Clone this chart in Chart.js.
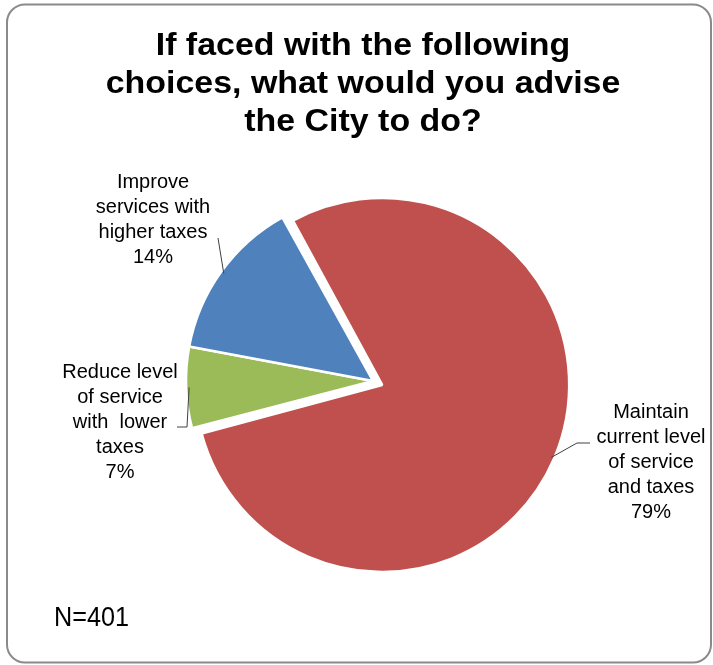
<!DOCTYPE html>
<html>
<head>
<meta charset="utf-8">
<script src="https://cdn.jsdelivr.net/npm/chart.js@4.4.1/dist/chart.umd.min.js"></script>
<style>
  html, body { margin: 0; padding: 0; background: #fff; }
  canvas { display: block; }
</style>
</head>
<body>
<canvas id="pieChart" width="713" height="665"></canvas>
<script>
// data
const categories = [
  "Maintain current level of service and taxes",
  "Reduce level of service with lower taxes",
  "Improve services with higher taxes"
];
const labelLines = [
  ["Maintain", "current level", "of service", "and taxes"],
  ["Reduce level", "of service", "with  lower", "taxes"],
  ["Improve", "services with", "higher taxes"]
];
const shares = [79, 7, 14];
const titleLines = ["If faced with the following", "choices, what would you advise", "the City to do?"];
const footNote = "N=401";

// style
const sliceColors = ["#C0504D", "#9BBB59", "#4F81BD"];
const explode = [40, 0, 0];
const labelLayout = [
  { x: 651, y: 412, elbow: [[590, 443], [577, 443]] },
  { x: 120, y: 372, elbow: [[177, 427], [187, 427]] },
  { x: 153, y: 182, elbow: [[218, 238]] }
];

const piePlugin = {
  id: "pieDecor",
  beforeDraw(chart) {
    const ctx = chart.ctx;
    ctx.save();
    ctx.fillStyle = "#fff";
    ctx.fillRect(0, 0, chart.width, chart.height);
    ctx.strokeStyle = "#8a8a8a";
    ctx.lineWidth = 2;
    ctx.beginPath();
    ctx.roundRect(7, 4.5, 704, 658, 18);
    ctx.stroke();
    ctx.restore();
  },
  afterDatasetsUpdate(chart) {
    // keep the exploded slice the same size as the others
    const meta = chart.getDatasetMeta(0);
    const R = meta.controller.outerRadius;
    meta.data.forEach((arc, i) => {
      arc.outerRadius = R - (explode[i] || 0) / 4;
    });
  },
  afterDraw(chart) {
    const ctx = chart.ctx;
    const meta = chart.getDatasetMeta(0);
    const R = meta.controller.outerRadius;
    ctx.save();

    // title
    ctx.fillStyle = "#000";
    ctx.textAlign = "center";
    ctx.textBaseline = "alphabetic";
    ctx.font = "bold 32px 'Liberation Sans', Arial, sans-serif";
    titleLines.forEach((t, i) => {
      ctx.save();
      ctx.translate(363, 55 + i * 38);
      ctx.scale(1.06, 1);
      ctx.fillText(t, 0, 0);
      ctx.restore();
    });

    // data labels + leader lines
    ctx.font = "20px 'Liberation Sans', Arial, sans-serif";
    ctx.textBaseline = "middle";
    meta.data.forEach((arc, i) => {
      const lay = labelLayout[i];
      const lines = labelLines[i].concat([shares[i] + "%"]);
      lines.forEach((t, j) => ctx.fillText(t, lay.x, lay.y + j * 25));

      const mid = (arc.startAngle + arc.endAngle) / 2;
      const off = (explode[i] || 0) / 4;
      const ex = arc.x + Math.cos(mid) * (R + off - 3);
      const ey = arc.y + Math.sin(mid) * (R + off - 3);
      ctx.strokeStyle = "#404040";
      ctx.lineWidth = 1;
      ctx.beginPath();
      lay.elbow.forEach((p, k) => k === 0 ? ctx.moveTo(p[0], p[1]) : ctx.lineTo(p[0], p[1]));
      ctx.lineTo(ex, ey);
      ctx.stroke();
    });

    // sample size
    ctx.textAlign = "left";
    ctx.textBaseline = "alphabetic";
    ctx.font = "28px 'Liberation Sans', Arial, sans-serif";
    ctx.save();
    ctx.translate(54, 626);
    ctx.scale(0.9, 1);
    ctx.fillText(footNote, 0, 0);
    ctx.restore();

    ctx.restore();
  }
};

new Chart(document.getElementById("pieChart"), {
  type: "pie",
  data: {
    labels: categories,
    datasets: [{
      data: shares,
      backgroundColor: sliceColors,
      borderColor: "#fff",
      borderWidth: 2.5,
      offset: explode,
      hoverOffset: 0,
      radius: 187
    }]
  },
  options: {
    responsive: false,
    animation: false,
    rotation: -29,
    layout: { padding: { left: 173, right: 140, top: 181, bottom: 84 } },
    plugins: {
      legend: { display: false },
      tooltip: { enabled: false },
      title: { display: false }
    }
  },
  plugins: [piePlugin]
});
</script>
</body>
</html>
